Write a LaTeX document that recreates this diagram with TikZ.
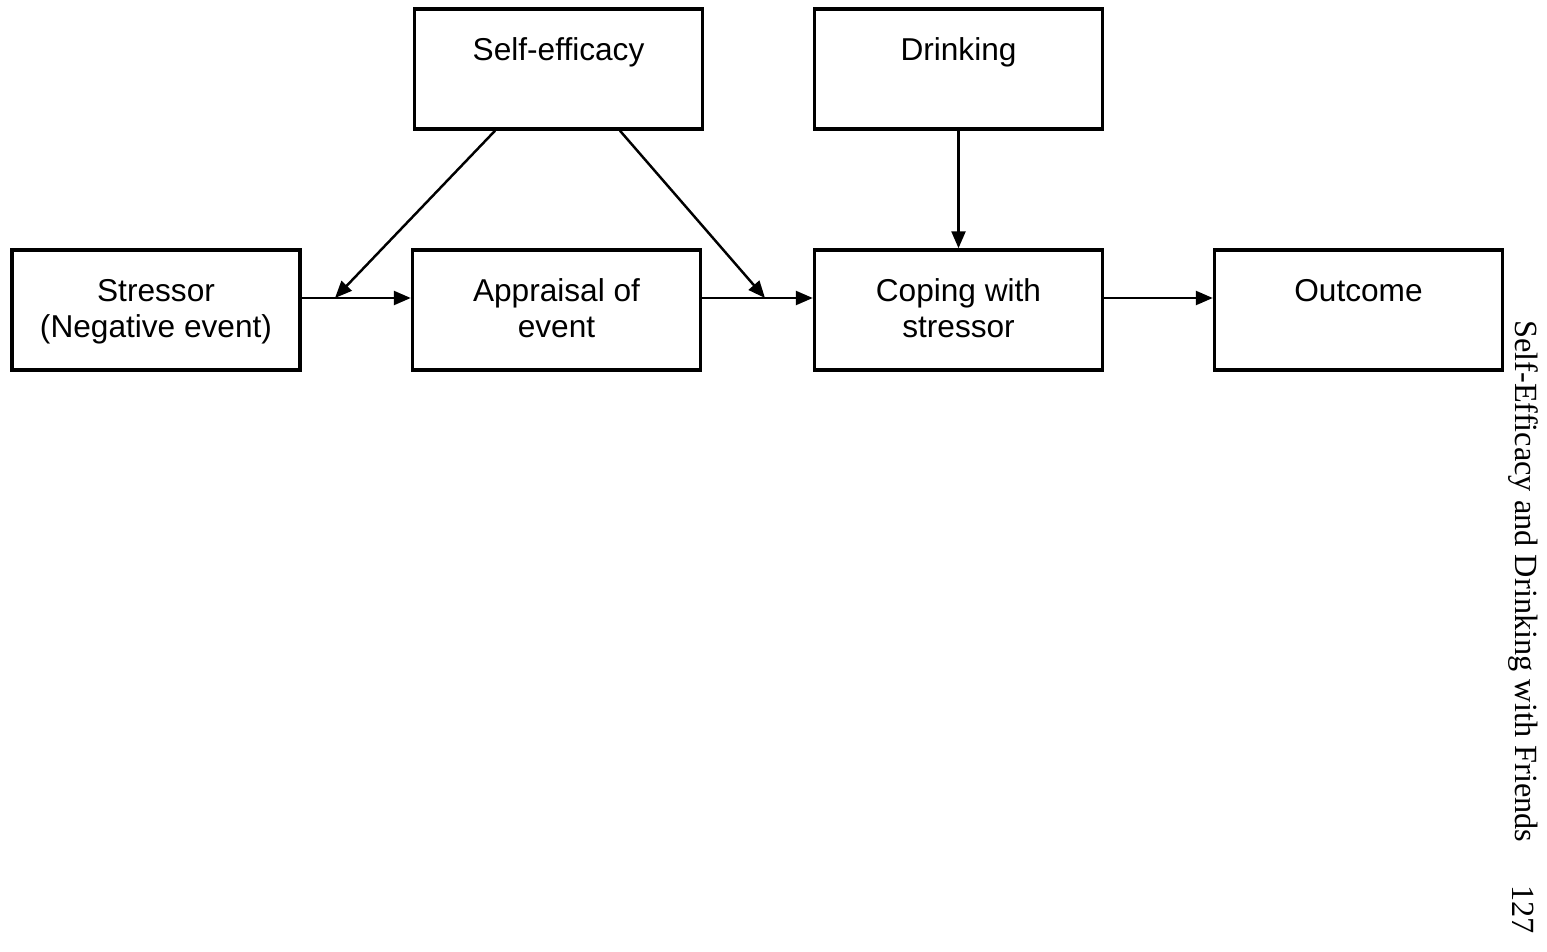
\documentclass[tikz,border=0pt]{standalone}
\usepackage{fontspec}
\setmainfont{Liberation Sans}
\newfontfamily\headfont{Liberation Serif}
\usetikzlibrary{arrows.meta, shadows}
\tikzset{
    box/.style = {draw, line width = 2pt, inner sep = 0pt, fill = white,
        drop shadow = {shadow xshift = -0.035cm, shadow yshift = -0.035cm,
            fill = black!70, opacity = 1}},
    arr/.style = {line width = 1.4pt, -{Triangle[length = 0.34cm, width = 0.28cm]}}
}
\newcommand{\boxtext}[1]{\parbox[t][2.4cm][t]{5.76cm}{\centering
    \fontsize{18}{20.6}\selectfont\vspace*{15pt}\strut #1}}

\begin{document}
\begin{tikzpicture}[x = 0.02cm, y = -0.02cm]
    \useasboundingbox (0,0) rectangle (1547,952);
    % boxes
    \node[box] (stressor)  at (156,310)   {\boxtext{Stressor\\(Negative event)}};
    \node[box] (appraisal) at (556.5,310) {\boxtext{Appraisal of\\event}};
    \node[box] (coping)    at (958.5,310) {\boxtext{Coping with\\stressor}};
    \node[box] (outcome)   at (1358.5,310) {\boxtext{Outcome}};
    \node[box] (selfeff)   at (558.5,69)  {\boxtext{Self-efficacy}};
    \node[box] (drinking)  at (958.5,69)  {\boxtext{Drinking}};
    % points where the moderators meet the paths
    \coordinate (m1) at (335,298);
    \coordinate (m2) at (765,298);
    % paths
    \draw[arr] ([yshift = 0.24cm]stressor.east) -- ([yshift = 0.24cm]appraisal.west);
    \draw[arr] ([yshift = 0.24cm]appraisal.east) -- ([yshift = 0.24cm]coping.west);
    \draw[arr] ([yshift = 0.24cm]coping.east) -- ([yshift = 0.24cm]outcome.west);
    \draw[arr] ([xshift = -1.27cm]selfeff.south) -- (m1);
    \draw[arr] ([xshift = 1.23cm]selfeff.south) -- (m2);
    \draw[arr] (drinking.south) -- (coping.north);
    % running head
    \node[rotate = -90, anchor = west, inner sep = 0pt, font = \headfont\fontsize{18.4}{21}\selectfont]
        (head) at (1523,320) {Self-Efficacy and Drinking with Friends};
    \node[rotate = -90, anchor = west, inner sep = 0pt, font = \headfont\fontsize{18.4}{21}\selectfont]
        (page) at (1523,885) {127};
\end{tikzpicture}
\end{document}
